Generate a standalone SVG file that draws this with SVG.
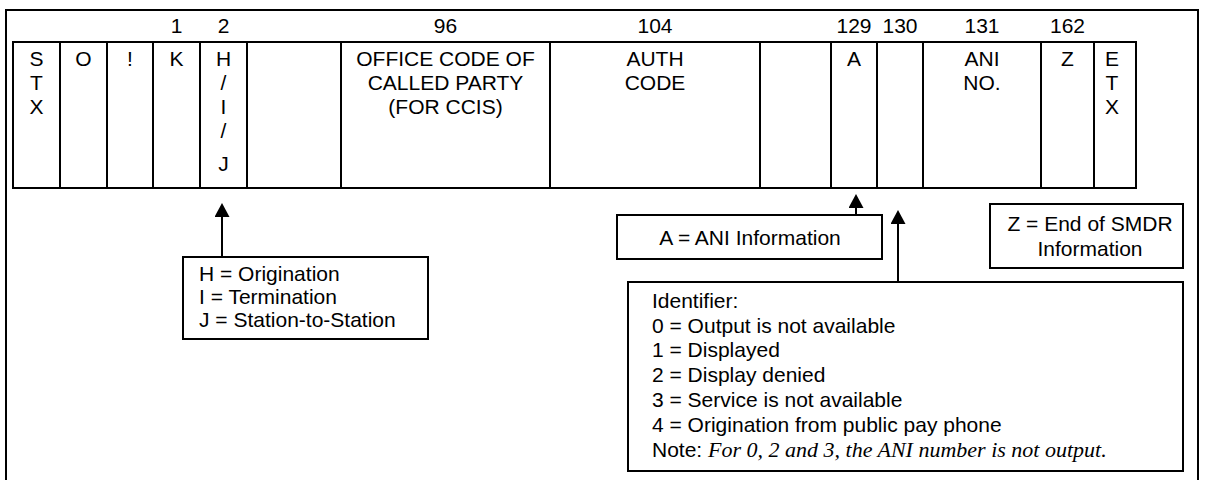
<svg xmlns="http://www.w3.org/2000/svg" width="1205" height="480" viewBox="0 0 1205 480">
<defs>
<marker id="ah" viewBox="0 0 10 10" refX="0" refY="5" markerWidth="14" markerHeight="15" markerUnits="userSpaceOnUse" orient="auto" preserveAspectRatio="none">
<path d="M0,0 L10,5 L0,10 z" fill="#000"/>
</marker>
</defs>
<style>
text{font-family:"Liberation Sans",Arial,sans-serif;font-size:21px;fill:#000}
.c{text-anchor:middle}
.ln{stroke:#000;stroke-width:2;fill:none}
.bx{stroke:#000;stroke-width:2;fill:#fff}
.it{font-family:"Liberation Serif","Times New Roman",serif;font-style:italic;font-size:22px}
</style>
<rect width="1205" height="480" fill="#fff"/>
<path class="ln" d="M6,481 V10 H1198 V481"/>
<g id="header">
<text class="c" x="176.5" y="33">1</text>
<text class="c" x="223.5" y="33">2</text>
<text class="c" x="445.5" y="33">96</text>
<text class="c" x="655" y="33">104</text>
<text class="c" x="854" y="33">129</text>
<text class="c" x="900" y="33">130</text>
<text class="c" x="982" y="33">131</text>
<text class="c" x="1067.5" y="33">162</text>
</g>
<g id="record">
<rect class="ln" x="13" y="42" width="1123" height="146"/>
<path class="ln" d="M60,42V188M107,42V188M153,42V188M200,42V188M247,42V188M341,42V188M550,42V188M760,42V188M831,42V188M877,42V188M923,42V188M1041,42V188M1094,42V188"/>
</g>
<g id="f-stx"><text class="c" x="36.5" y="66">S</text><text class="c" x="36.5" y="90">T</text><text class="c" x="36.5" y="114">X</text></g>
<g id="f-o"><text class="c" x="83.5" y="66">O</text></g>
<g id="f-excl"><text class="c" x="130" y="66">!</text></g>
<g id="f-k"><text class="c" x="176.5" y="66">K</text></g>
<g id="f-hij"><text class="c" x="223.5" y="66">H</text><text class="c" x="223.5" y="90">/</text><text class="c" x="223.5" y="114">I</text><text class="c" x="223.5" y="138">/</text><text class="c" x="223.5" y="171">J</text></g>
<g id="f-office"><text class="c" x="445.5" y="66">OFFICE CODE OF</text><text class="c" x="445.5" y="90">CALLED PARTY</text><text class="c" x="445.5" y="114">(FOR CCIS)</text></g>
<g id="f-auth"><text class="c" x="655" y="66">AUTH</text><text class="c" x="655" y="90">CODE</text></g>
<g id="f-a"><text class="c" x="854" y="66">A</text></g>
<g id="f-ani"><text class="c" x="982" y="66">ANI</text><text class="c" x="982" y="90">NO.</text></g>
<g id="f-z"><text class="c" x="1067.5" y="66">Z</text></g>
<g id="f-etx"><text class="c" x="1112" y="66">E</text><text class="c" x="1112" y="90">T</text><text class="c" x="1112" y="114">X</text></g>
<g id="connectors">
<line class="ln" x1="222" y1="257" x2="222" y2="217" marker-end="url(#ah)"/>
<line class="ln" x1="856" y1="215" x2="856" y2="208" marker-end="url(#ah)"/>
<line class="ln" x1="898" y1="282" x2="898" y2="224" marker-end="url(#ah)"/>
</g>
<g id="box-hij">
<rect class="bx" x="183" y="257" width="245" height="82"/>
<text x="199" y="281">H = Origination</text>
<text x="199" y="304">I = Termination</text>
<text x="199" y="327">J = Station-to-Station</text>
</g>
<g id="box-a">
<rect class="bx" x="617" y="215" width="265" height="44"/>
<text class="c" x="750" y="245">A = ANI Information</text>
</g>
<g id="box-z">
<rect class="bx" x="990" y="204" width="193" height="64"/>
<text class="c" x="1090" y="231">Z = End of SMDR</text>
<text class="c" x="1090" y="256">Information</text>
</g>
<g id="box-id">
<rect class="bx" x="628" y="282" width="555" height="189"/>
<text x="652" y="308">Identifier:</text>
<text x="652" y="333">0 = Output is not available</text>
<text x="652" y="357">1 = Displayed</text>
<text x="652" y="382">2 = Display denied</text>
<text x="652" y="407">3 = Service is not available</text>
<text x="652" y="432">4 = Origination from public pay phone</text>
<text x="652" y="457">Note: <tspan class="it">For 0, 2 and 3, the ANI number is not output.</tspan></text>
</g>
</svg>
